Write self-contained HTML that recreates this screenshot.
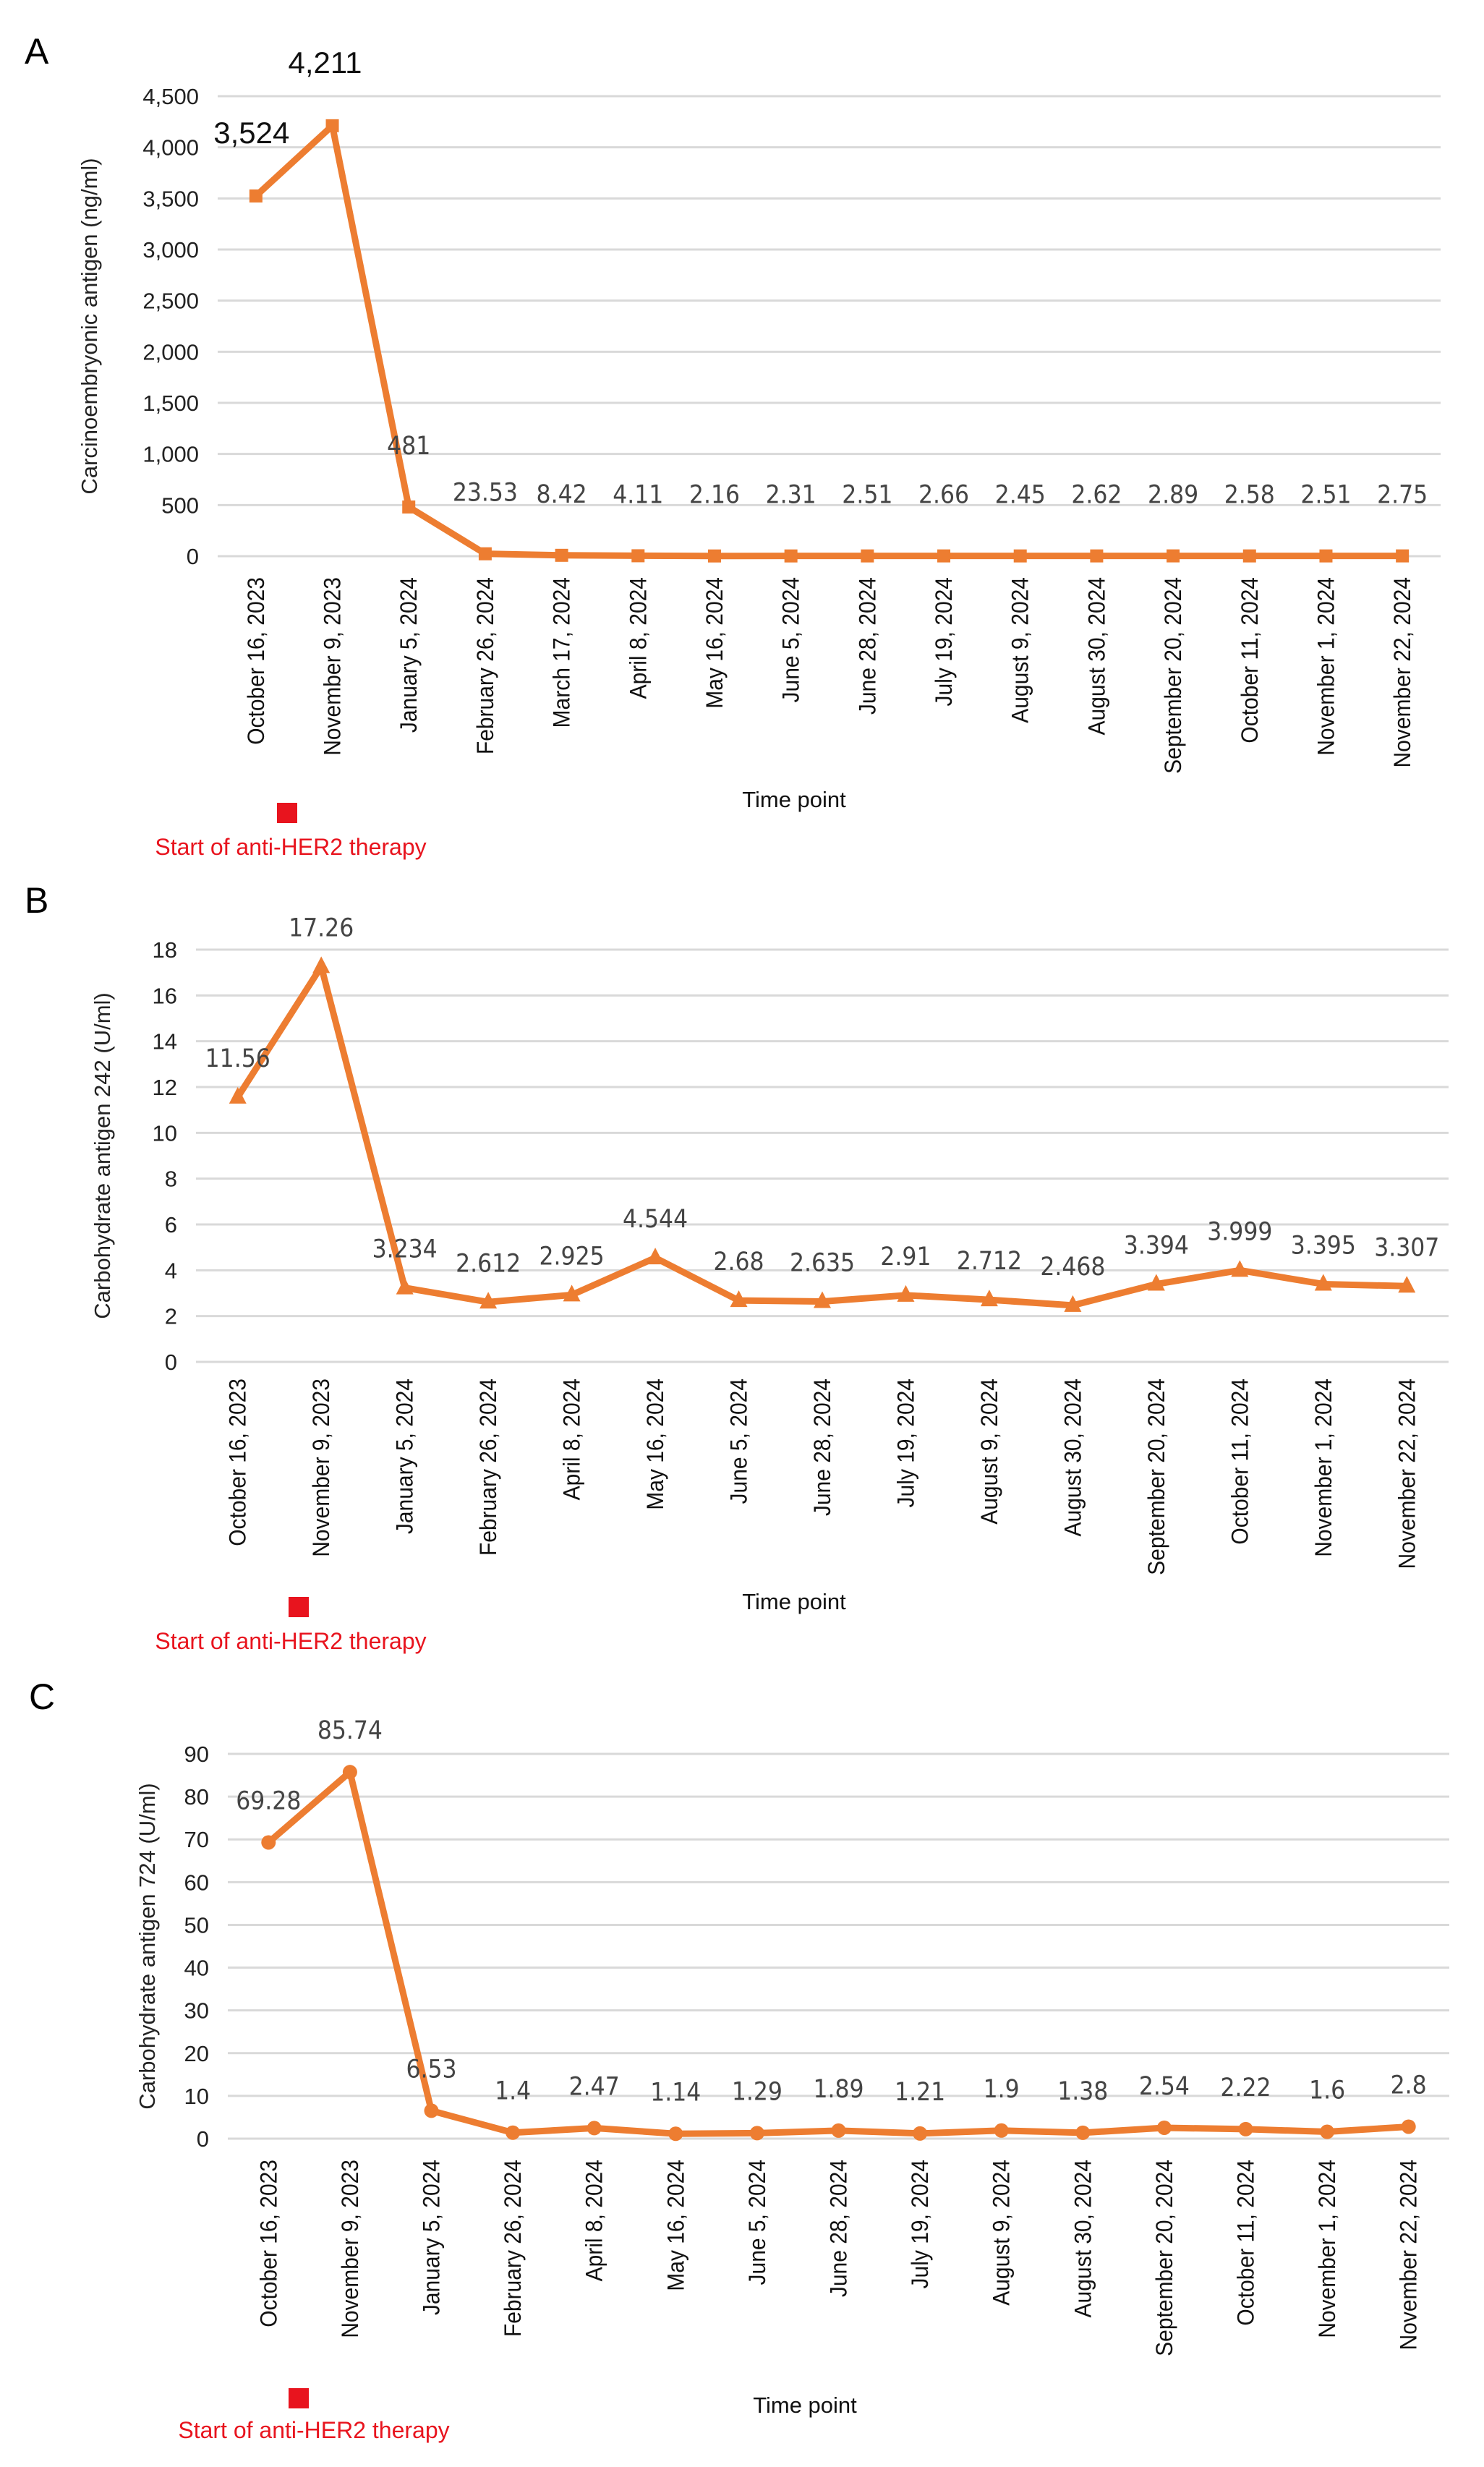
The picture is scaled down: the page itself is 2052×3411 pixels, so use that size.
<!DOCTYPE html>
<html><head><meta charset="utf-8"><style>
html,body{margin:0;padding:0;background:#fff;}
svg{display:block;}
</style></head><body>
<svg id="fig" width="2052" height="3411" viewBox="0 0 2052 3411" xmlns="http://www.w3.org/2000/svg" font-family="Liberation Sans, Arial, sans-serif"></svg>
<script>
// Panel A data
const datesA = ["October 16, 2023","November 9, 2023","January 5, 2024","February 26, 2024","March 17, 2024","April 8, 2024","May 16, 2024","June 5, 2024","June 28, 2024","July 19, 2024","August 9, 2024","August 30, 2024","September 20, 2024","October 11, 2024","November 1, 2024","November 22, 2024"];
const valuesA = [3524,4211,481,23.53,8.42,4.11,2.16,2.31,2.51,2.66,2.45,2.62,2.89,2.58,2.51,2.75];
const labelsA = ["3,524","4,211","481","23.53","8.42","4.11","2.16","2.31","2.51","2.66","2.45","2.62","2.89","2.58","2.51","2.75"];
const ticksA = [0,500,1000,1500,2000,2500,3000,3500,4000,4500];
const tickLabelsA = ["0","500","1,000","1,500","2,000","2,500","3,000","3,500","4,000","4,500"];
// Panel B data
const datesB = ["October 16, 2023","November 9, 2023","January 5, 2024","February 26, 2024","April 8, 2024","May 16, 2024","June 5, 2024","June 28, 2024","July 19, 2024","August 9, 2024","August 30, 2024","September 20, 2024","October 11, 2024","November 1, 2024","November 22, 2024"];
const valuesB = [11.56,17.26,3.234,2.612,2.925,4.544,2.68,2.635,2.91,2.712,2.468,3.394,3.999,3.395,3.307];
const labelsB = ["11.56","17.26","3.234","2.612","2.925","4.544","2.68","2.635","2.91","2.712","2.468","3.394","3.999","3.395","3.307"];
const ticksB = [0,2,4,6,8,10,12,14,16,18];
// Panel C data
const datesC = datesB.slice();
const valuesC = [69.28,85.74,6.53,1.4,2.47,1.14,1.29,1.89,1.21,1.9,1.38,2.54,2.22,1.6,2.8];
const labelsC = ["69.28","85.74","6.53","1.4","2.47","1.14","1.29","1.89","1.21","1.9","1.38","2.54","2.22","1.6","2.8"];
const ticksC = [0,10,20,30,40,50,60,70,80,90];

const NS="http://www.w3.org/2000/svg";
const svg=document.getElementById('fig');
function mk(tag,attrs,parent,text){const e=document.createElementNS(NS,tag);for(const k in attrs)e.setAttribute(k,attrs[k]);if(text!==undefined)e.textContent=text;(parent||svg).appendChild(e);return e;}
const ORANGE="#ED7D31";

function panel(cfg){
  const g=mk('g',{});
  
  
  const n=cfg.dates.length;
  const step=(cfg.right-cfg.left)/n;
  const xs=i=>cfg.left+step*(i+0.5);
  const ys=v=>cfg.y0-(v-cfg.min)/(cfg.max-cfg.min)*(cfg.y0-cfg.yTop);
  const L=mk('text',{x:cfg.letterX,y:cfg.letterY,'font-size':50,fill:'#000'},g,cfg.letter);
  
  
  cfg.ticks.forEach((t,i)=>{
    const ln=mk('line',{x1:cfg.left,x2:cfg.right,y1:ys(t),y2:ys(t),stroke:'#d9d9d9','stroke-width':3},g);
    
    
    const tl=mk('text',{x:cfg.left-26,y:ys(t)+11,'font-size':31,'text-anchor':'end',fill:'#222'},g,cfg.tickLabels?cfg.tickLabels[i]:String(t));
    
    
  });
  const yt=mk('text',{x:0,y:0,'font-size':31,'text-anchor':'middle',fill:'#222',transform:`translate(${cfg.yTitleX},${(cfg.y0+cfg.yTop)/2}) rotate(-90)`},g,cfg.yTitle);
  
  
  const pts=cfg.values.map((v,i)=>xs(i)+','+ys(v)).join(' ');
  const pl=mk('polyline',{points:pts,fill:'none',stroke:ORANGE,'stroke-width':9,'stroke-linejoin':'round'},g);
  
  
  cfg.values.forEach((v,i)=>{
    const x=xs(i),y=ys(v);let m;
    if(cfg.marker==='square')m=mk('rect',{x:x-9,y:y-9,width:18,height:18,fill:ORANGE},g);
    else if(cfg.marker==='triangle')m=mk('polygon',{points:`${x},${y-14} ${x-12},${y+9} ${x+12},${y+9}`,fill:ORANGE},g);
    else m=mk('circle',{cx:x,cy:y,r:10,fill:ORANGE},g);
    
    
    const big=cfg.bigLabels&&i<2;
    const lt=mk('text',{x:x+(cfg.labelDx?cfg.labelDx[i]||0:0),y:y-cfg.labelOff+12,'font-size':big?42:35,'text-anchor':'middle',fill:big?'#111':'#444','font-family':big?'Liberation Sans, sans-serif':'DejaVu Sans Condensed, DejaVu Sans, sans-serif'},g,cfg.labels[i]);
    
    
    const dl=mk('text',{x:0,y:0,'font-size':30,'text-anchor':'end',fill:'#111',transform:`translate(${x+11},${cfg.dateTop}) rotate(-90) scale(1,1.08)`},g,cfg.dates[i]);
    
    
  });
  const xt=mk('text',{x:cfg.xTitleX,y:cfg.xTitleY,'font-size':31,'text-anchor':'middle',fill:'#111'},g,'Time point');
  
  
  const sq=mk('rect',{x:cfg.sqX-14,y:cfg.sqY-14,width:28,height:28,fill:'#e8141e'},g);
  
  
  const st=mk('text',{x:cfg.legX,y:cfg.legY,'font-size':32,'text-anchor':'middle',fill:'#e8141e'},g,'Start of anti-HER2 therapy');
  
  
}

panel({id:'cea',letter:'A',letterX:34,letterY:88,dates:datesA,values:valuesA,labels:labelsA,ticks:ticksA,tickLabels:tickLabelsA,
  min:0,max:4500,left:301,right:1992,y0:769,yTop:133,yTitleX:134,yTitle:'Carcinoembryonic antigen (ng/ml)',
  marker:'square',labelOff:85,bigLabels:true,labelDx:[-6,-10,0],dateTop:798,xTitleX:1098,xTitleY:1116,sqX:397,sqY:1124,legX:402,legY:1182});
panel({id:'ca242',letter:'B',letterX:34,letterY:1262,dates:datesB,values:valuesB,labels:labelsB,ticks:ticksB,
  min:0,max:18,left:271,right:2003,y0:1883,yTop:1313,yTitleX:152,yTitle:'Carbohydrate antigen 242 (U/ml)',
  marker:'triangle',labelOff:54,dateTop:1906,xTitleX:1098,xTitleY:2225,sqX:413,sqY:2222,legX:402,legY:2280});
panel({id:'ca724',letter:'C',letterX:40,letterY:2363,dates:datesC,values:valuesC,labels:labelsC,ticks:ticksC,
  min:0,max:90,left:315,right:2004,y0:2957,yTop:2425,yTitleX:214,yTitle:'Carbohydrate antigen 724 (U/ml)',
  marker:'circle',labelOff:58,dateTop:2986,xTitleX:1113,xTitleY:3336,sqX:413,sqY:3316,legX:434,legY:3371});
</script>
</body></html>
